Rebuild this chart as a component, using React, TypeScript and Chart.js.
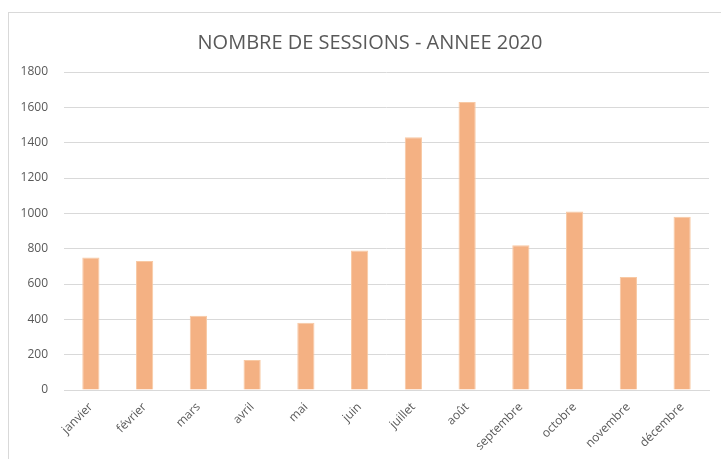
import React, { useEffect, useRef } from "react";
import { Chart, registerables } from "chart.js";

Chart.register(...registerables);

const months = ["janvier", "février", "mars", "avril", "mai", "juin", "juillet", "août", "septembre", "octobre", "novembre", "décembre"];
const sessions = [750, 730, 420, 170, 380, 790, 1430, 1630, 820, 1010, 640, 980];
const titleText = "NOMBRE DE SESSIONS - ANNEE 2020";

const W = 722;
const H = 447;

export default function App() {
  const ref = useRef<HTMLCanvasElement | null>(null);
  useEffect(() => {
    if (!ref.current) return;
    const chart = new Chart(ref.current, {
      type: "bar",
      data: {
        labels: months,
        datasets: [
          {
            data: sessions,
            backgroundColor: "#F4B183",
            borderColor: "#F8C9A4",
            borderWidth: 1,
            barPercentage: 0.32,
            categoryPercentage: 1,
          },
        ],
      },
      options: {
        responsive: false,
        animation: false,
        layout: { padding: { left: 0, right: 0, top: 8, bottom: 4 } },
        plugins: {
          legend: { display: false },
          tooltip: { enabled: false },
          title: {
            display: true,
            text: titleText,
            color: "#595959",
            font: { family: "'Open Sans', sans-serif", size: 20, weight: "normal" },
            padding: { top: 10, bottom: 17 },
          },
        },
        scales: {
          x: {
            grid: { display: false, drawTicks: false },
            border: { display: true, color: "#D9D9D9", width: 1 },
            ticks: {
              color: "#595959",
              font: { family: "'Open Sans', sans-serif", size: 12 },
              maxRotation: 45,
              minRotation: 45,
              padding: 10,
            },
            afterFit: (s: any) => {
              s.height = 66;
              s.paddingLeft = 0;
              s.paddingRight = 22;
            },
          },
          y: {
            min: 0,
            max: 1800,
            grid: { color: "#D9D9D9", drawTicks: false },
            border: { display: false },
            ticks: {
              stepSize: 200,
              color: "#595959",
              font: { family: "'Open Sans', sans-serif", size: 12 },
              padding: 16,
              callback: (v: any) => String(v),
            },
            afterFit: (s: any) => {
              s.width = 55;
            },
          },
        },
      },
    });
    return () => chart.destroy();
  }, []);
  return (
    <div
      style={{
        position: "absolute",
        left: 8,
        top: 12,
        width: W,
        height: H,
        borderLeft: "1px solid #D9D9D9",
        borderTop: "1px solid #D9D9D9",
        background: "#fff",
        overflow: "hidden",
      }}
    >
      <canvas ref={ref} width={W} height={H} style={{ display: "block" }} />
    </div>
  );
}
